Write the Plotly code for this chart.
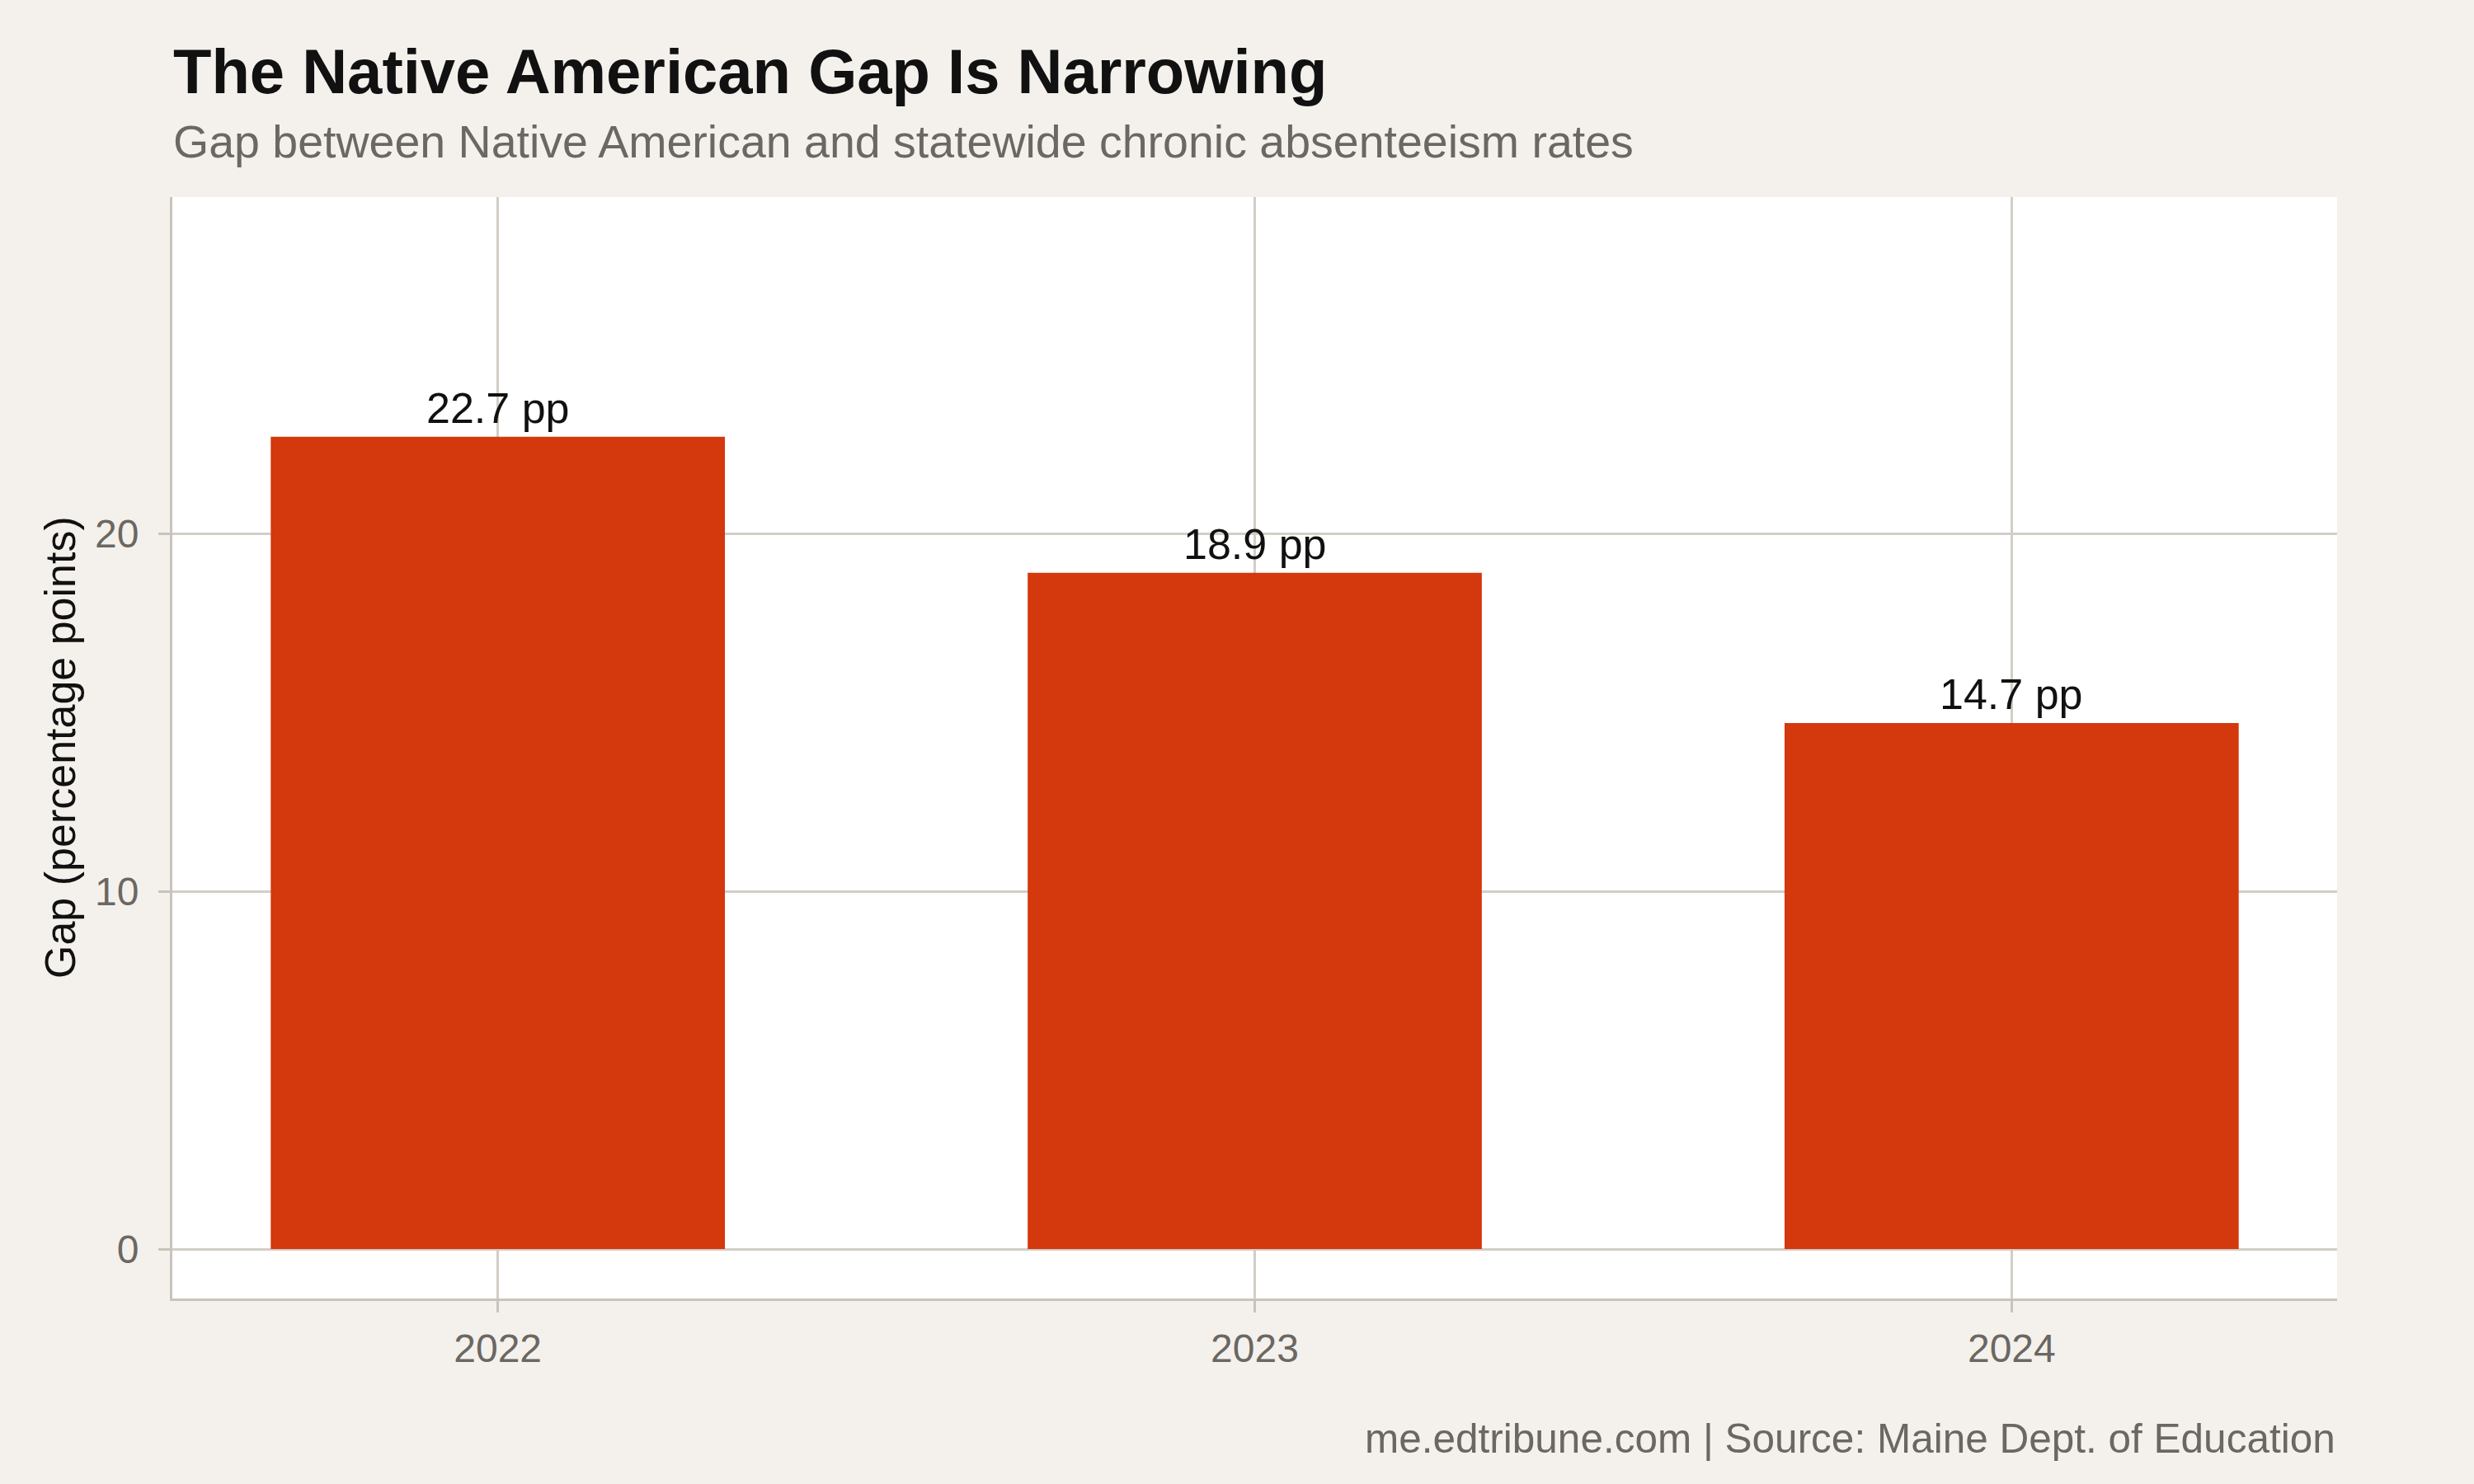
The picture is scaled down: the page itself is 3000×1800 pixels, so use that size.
import plotly.graph_objects as go

years = ["2022", "2023", "2024"]
gap_pp = [22.7, 18.9, 14.7]
y_ticks = [0, 10, 20]

title_text = "The Native American Gap Is Narrowing"
subtitle_text = "Gap between Native American and statewide chronic absenteeism rates"
caption_text = "me.edtribune.com | Source: Maine Dept. of Education"
y_title = "Gap (percentage points)"

FONT = "Liberation Sans, Arial, Helvetica, sans-serif"
BG = "#f4f1ec"
BAR = "#d4380d"
GRID = "#d3cec6"
AXIS = "#c9c4bb"
GRAY = "#6b6762"

fig = go.Figure()
fig.add_trace(go.Bar(
    x=years, y=gap_pp, width=0.6,
    marker=dict(color=BAR, line=dict(width=0)),
    cliponaxis=False, hoverinfo="skip",
))

# value labels above bars (category axis: position by category index)
for i, v in enumerate(gap_pp):
    fig.add_annotation(x=i, y=v, xref="x", yref="y", text=f"{v:.1f} pp", showarrow=False,
                       xanchor="center", yanchor="bottom", yshift=4,
                       font=dict(family=FONT, size=52, color="#111111"))

fig.update_layout(
    width=3000, height=1800,
    paper_bgcolor=BG, plot_bgcolor="white",
    margin=dict(l=209, r=166, t=239, b=225),
    showlegend=False,
    font=dict(family=FONT, color=GRAY),
    bargap=0.4,
)
fig.update_xaxes(
    type="category", range=[-0.43, 2.43],
    showgrid=True, gridcolor=GRID, gridwidth=2.5,
    showline=True, linecolor=AXIS, linewidth=3,
    ticks="outside", ticklen=14, tickwidth=2.5, tickcolor=AXIS,
    tickfont=dict(family=FONT, size=48, color=GRAY),
    ticklabelstandoff=2,
    zeroline=False,
)
fig.update_yaxes(
    range=[-1.38, 29.4], tickvals=y_ticks,
    showgrid=True, gridcolor=GRID, gridwidth=2.5,
    showline=True, linecolor=AXIS, linewidth=3,
    ticks="outside", ticklen=14, tickwidth=2.5, tickcolor=AXIS,
    tickfont=dict(family=FONT, size=48, color=GRAY),
    ticklabelstandoff=14,
    zeroline=True, zerolinecolor=GRID, zerolinewidth=2.5,
)

H = 1336.0
W = 2625.0
def py(pix):
    return (1575 - pix) / H
def px(pix):
    return (pix - 209) / W

fig.add_annotation(text="<b>" + title_text + "</b>", xref="paper", yref="paper",
                   x=px(208), y=py(86), xanchor="left", yanchor="middle", showarrow=False,
                   font=dict(family=FONT, size=76, color="#111111"))
fig.add_annotation(text=subtitle_text, xref="paper", yref="paper",
                   x=px(208), y=py(172), xanchor="left", yanchor="middle", showarrow=False,
                   font=dict(family=FONT, size=55.5, color=GRAY))
fig.add_annotation(text=caption_text, xref="paper", yref="paper",
                   x=1.0, y=py(1744), xanchor="right", yanchor="middle", showarrow=False,
                   font=dict(family=FONT, size=49.5, color=GRAY))
fig.add_annotation(text=y_title, xref="paper", yref="paper",
                   x=px(73), y=0.5, xanchor="center", yanchor="middle", showarrow=False,
                   textangle=-90,
                   font=dict(family=FONT, size=52, color="#111111"))

fig.write_html("out.html")
